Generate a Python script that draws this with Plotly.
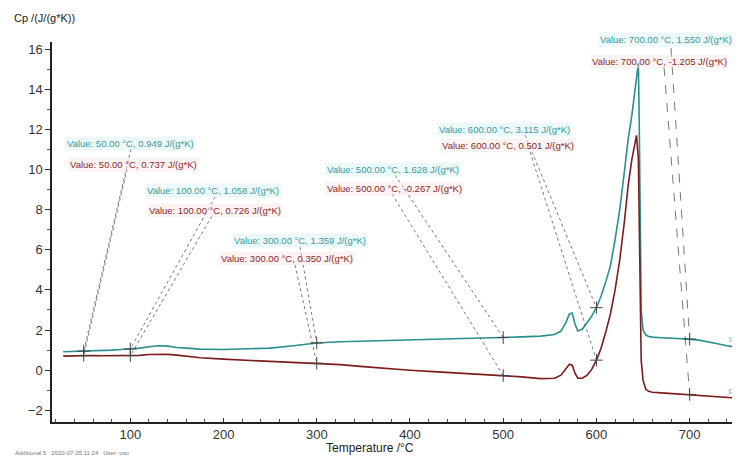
import plotly.graph_objects as go

# ---------------- data ----------------
temp = [28, 40, 50, 60, 70, 80, 90, 100, 110, 120, 130, 140, 150, 160, 175, 200, 225, 250, 275,
        300, 325, 350, 375, 400, 425, 450, 475, 500, 520, 540, 555, 562, 567, 571, 574, 577, 580,
        585, 590, 595, 600, 605, 610, 615, 620, 625, 630, 634, 638, 641, 643, 645, 646, 647, 648,
        650, 653, 656, 660, 670, 680, 690, 700, 710, 720, 730, 740, 754]

cp_teal = [0.92, 0.93, 0.949, 0.96, 0.98, 1.0, 1.03, 1.058, 1.1, 1.17, 1.22, 1.2, 1.13, 1.1, 1.05,
           1.03, 1.05, 1.1, 1.22, 1.359, 1.42, 1.45, 1.48, 1.5, 1.52, 1.55, 1.59, 1.628, 1.66, 1.7,
           1.78, 1.95, 2.35, 2.8, 2.85, 2.3, 1.95, 2.05, 2.35, 2.7, 3.115, 3.7, 4.4, 5.2, 6.5, 8.0,
           9.9, 11.5, 12.7, 13.9, 14.8, 15.3, 12.0, 6.0, 3.0, 2.0, 1.75, 1.68, 1.65, 1.62, 1.6, 1.57,
           1.55, 1.5, 1.42, 1.32, 1.22, 1.1]

cp_red = [0.70, 0.72, 0.737, 0.73, 0.72, 0.72, 0.72, 0.726, 0.74, 0.78, 0.8, 0.79, 0.75, 0.7, 0.62,
          0.55, 0.5, 0.42, 0.38, 0.35, 0.28, 0.18, 0.08, 0.0, -0.07, -0.13, -0.2, -0.267, -0.33,
          -0.42, -0.4, -0.25, 0.05, 0.3, 0.25, -0.15, -0.4, -0.4, -0.25, 0.05, 0.501, 1.1, 1.9, 2.8,
          4.0, 5.5, 7.4, 9.2, 10.5, 11.3, 11.7, 10.5, 7.0, 3.0, 0.5, -0.5, -0.95, -1.05, -1.1, -1.13,
          -1.16, -1.19, -1.205, -1.24, -1.28, -1.32, -1.36, -1.4]

point_temp = [50, 100, 300, 500, 600, 700]
point_teal = [0.949, 1.058, 1.359, 1.628, 3.115, 1.550]
point_red = [0.737, 0.726, 0.350, -0.267, 0.501, -1.205]

# ---------------- layout of labels (data units) ----------------
lab_teal = [(30, 11.27), (116, 8.93), (209, 6.44), (309, 10.02), (429, 12.0), (602, 16.45)]
lab_red = [(33, 10.27), (118, 7.98), (195, 5.54), (309, 9.07), (432, 11.17), (593, 15.4)]
con_teal = [(100.7, 11.02), (190.9, 8.63), (282, 6.14), (384, 9.72), (523.4, 11.72), (680, 16.05)]
con_red = [(96.5, 10.02), (187.6, 7.68), (276.7, 5.24), (380.7, 8.78), (528.8, 10.87), (672.5, 15.1)]

TEAL = "#2b8f8f"
RED = "#7d1c1c"
TEAL_TXT = "#3a9c9c"
RED_TXT = "#8a2a2a"
FONT = "Liberation Sans, Arial, sans-serif"

# page body has an 8px margin; the figure is sized so it fills the 740x462 window
OFF = 8
W, H = 740 - OFF, 462 - OFF
ML, MR, MT, MB = 52 - OFF, 0, 42 - OFF, 40
pw, ph = W - ML - MR, H - MT - MB
XR = [16, 754]
YR = [-2.58, 16.35]


def xp(t):  # data -> paper
    return (t - XR[0]) / (XR[1] - XR[0])


def yp(v):
    return (v - YR[0]) / (YR[1] - YR[0])


def pxp(px):  # window pixel -> paper
    return (px - OFF - ML) / pw


def pyp(py):
    return 1 - (py - OFF - MT) / ph


fig = go.Figure()

fig.add_trace(go.Scatter(x=temp, y=cp_teal, mode="lines",
                         line=dict(color=TEAL, width=1.6), showlegend=False))
fig.add_trace(go.Scatter(x=temp, y=cp_red, mode="lines",
                         line=dict(color=RED, width=1.6), showlegend=False))

# connectors
for i, t in enumerate(point_temp):
    dash = "dash" if t == 700 else "dot"
    fig.add_trace(go.Scatter(x=[con_teal[i][0], t], y=[con_teal[i][1], point_teal[i]],
                             mode="lines", line=dict(color="#555555", width=0.8, dash=dash),
                             showlegend=False, cliponaxis=False))
    fig.add_trace(go.Scatter(x=[con_red[i][0], t], y=[con_red[i][1], point_red[i]],
                             mode="lines", line=dict(color="#555555", width=0.8, dash=dash),
                             showlegend=False, cliponaxis=False))

# cross markers at the points
fig.add_trace(go.Scatter(x=point_temp + point_temp, y=point_teal + point_red, mode="markers",
                         marker=dict(symbol="cross-thin", size=9,
                                     line=dict(color="#444444", width=1)),
                         showlegend=False))

for i, t in enumerate(point_temp):
    fig.add_annotation(x=xp(lab_teal[i][0]), y=yp(lab_teal[i][1]), xref="paper", yref="paper",
                       text=f"Value: {t:.2f} °C, {point_teal[i]:.3f} J/(g*K)",
                       showarrow=False, xanchor="left", yanchor="middle",
                       font=dict(family=FONT, size=9.5, color=TEAL_TXT),
                       bgcolor="rgba(215,240,240,0.45)")
    fig.add_annotation(x=xp(lab_red[i][0]), y=yp(lab_red[i][1]), xref="paper", yref="paper",
                       text=f"Value: {t:.2f} °C, {point_red[i]:.3f} J/(g*K)",
                       showarrow=False, xanchor="left", yanchor="middle",
                       font=dict(family=FONT, size=9.5, color=RED_TXT),
                       bgcolor="rgba(248,228,228,0.45)")

# end tags
fig.add_annotation(x=pxp(727), y=yp(cp_teal[-2] + 0.1), xref="paper", yref="paper", text="[2.3",
                   showarrow=False, xanchor="left", font=dict(family=FONT, size=6, color=TEAL_TXT))
fig.add_annotation(x=pxp(727), y=yp(cp_red[-2] + 0.1), xref="paper", yref="paper", text="[1.2",
                   showarrow=False, xanchor="left", font=dict(family=FONT, size=6, color=RED_TXT))

# titles
fig.add_annotation(x=pxp(12), y=pyp(18), xref="paper", yref="paper", text="Cp /(J/(g*K))",
                   showarrow=False, xanchor="left", yanchor="middle",
                   font=dict(family=FONT, size=11, color="#222"))
fig.add_annotation(x=pxp(370), y=pyp(448), xref="paper", yref="paper", text="Temperature /°C",
                   showarrow=False, xanchor="center", yanchor="middle",
                   font=dict(family=FONT, size=12, color="#222"))
fig.add_annotation(x=pxp(13), y=pyp(453), xref="paper", yref="paper",
                   text="Additional 5   2020-07-25 11:24   User: uso", showarrow=False,
                   xanchor="left", yanchor="middle", font=dict(family=FONT, size=6, color="#777"))

fig.update_layout(
    width=W, height=H,
    margin=dict(l=ML, r=MR, t=MT, b=MB, autoexpand=False),
    paper_bgcolor="white", plot_bgcolor="white",
    font=dict(family=FONT, size=13, color="#333"),
    xaxis=dict(range=XR, automargin=False, showgrid=False, zeroline=False, showline=True,
               linecolor="#222", linewidth=1.5, ticks="inside", ticklen=4, tickcolor="#333",
               tickvals=[100, 200, 300, 400, 500, 600, 700],
               minor=dict(dtick=20, tick0=0, ticks="inside", ticklen=3, tickcolor="#555"),
               tickfont=dict(size=13, color="#333")),
    yaxis=dict(range=YR, automargin=False, showgrid=False, zeroline=False, showline=True,
               linecolor="#222", linewidth=1.5, ticks="outside", ticklen=5, tickcolor="#333",
               tickvals=[-2, 0, 2, 4, 6, 8, 10, 12, 14, 16],
               minor=dict(dtick=1, tick0=0, ticks="outside", ticklen=3, tickcolor="#555"),
               tickfont=dict(size=13, color="#333")),
)

fig.write_html("out.html")
